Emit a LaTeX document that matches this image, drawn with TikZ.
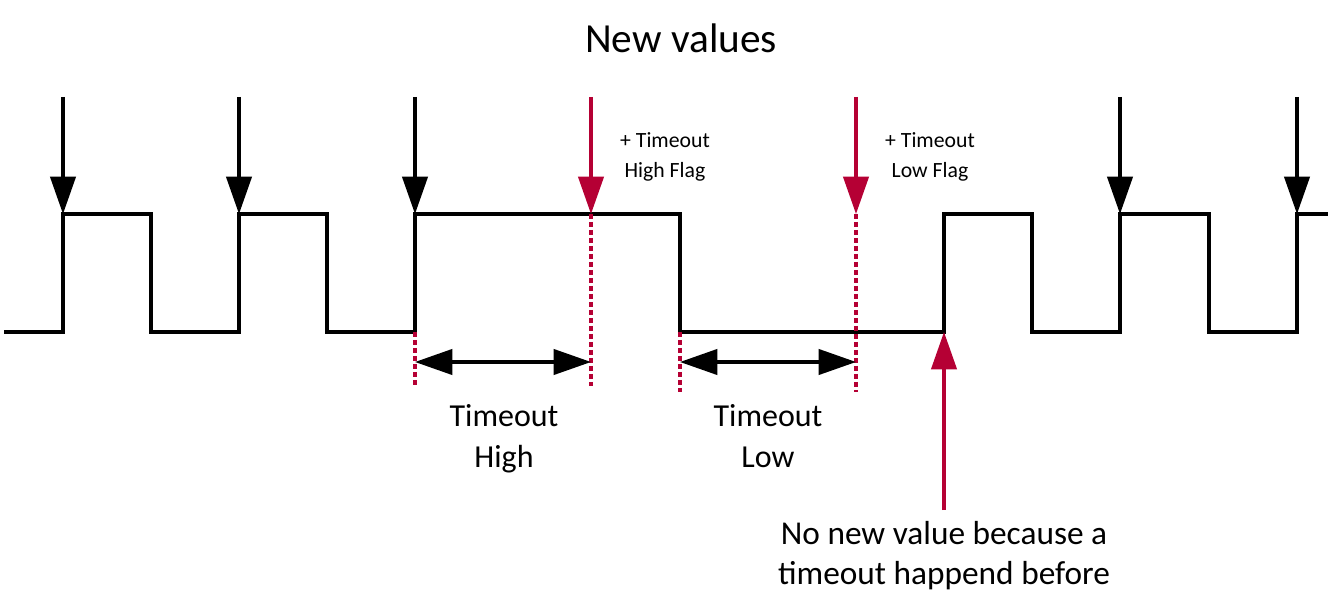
\documentclass[tikz,border=0pt]{standalone}
\usepackage{fontspec}
\setmainfont{Carlito}
\usepackage{xcolor}
\usetikzlibrary{arrows.meta}
\definecolor{flagred}{RGB}{181,0,52}
\tikzset{
	wave/.style={line width=2.4pt, line join=miter},
	tick/.style={line width=2.3pt, -{Triangle[length=28pt,width=19pt]}},
	span/.style={line width=2.3pt, {Triangle[length=28pt,width=19pt]}-{Triangle[length=28pt,width=19pt]}},
	guide/.style={flagred, line width=2.7pt, dash pattern=on 3.6pt off 2.4pt},
	lbl/.style={inner sep=0pt, align=center, font=\fontsize{24}{31}\selectfont}
}

\begin{document}
\begin{tikzpicture}[x=0.75pt,y=-0.75pt]
		\useasboundingbox (0,0) rectangle (1331,609);

		% signal edges
		\coordinate (e1) at (63,214);
		\coordinate (e2) at (239,214);
		\coordinate (e3) at (415,214);
		\coordinate (e4) at (1120,214);
		\coordinate (e5) at (1297,214);
		\coordinate (fh) at (591,214);
		\coordinate (fl) at (856,214);
		\coordinate (lo3) at (415,332);
		\coordinate (lo6) at (680,332);
		\coordinate (lo7) at (944,332);

		\draw[wave] (4,332) -- (63,332) -- (63,214) -- (151,214) -- (151,332)
			-- (239,332) -- (239,214) -- (327,214) -- (327,332)
			-- (415,332) -- (415,214) -- (680,214) -- (680,332)
			-- (944,332) -- (944,214) -- (1032,214) -- (1032,332)
			-- (1120,332) -- (1120,214) -- (1209,214) -- (1209,332)
			-- (1297,332) -- (1297,214) -- (1328,214);

		\node[inner sep=0pt, font=\fontsize{31}{37}\selectfont] at (681,38) (title)
			{New values};

		% new value arrows
		\foreach \e in {e1,e2,e3,e4,e5}
			\draw[tick] ([yshift=87.75pt]\e) -- (\e);

		% timeout flags
		\draw[tick, flagred] ([yshift=87.75pt]fh) -- (fh);
		\draw[tick, flagred] ([yshift=87.75pt]fl) -- (fl);
		\node[inner sep=0pt, align=center, font=\fontsize{16.3}{22.5}\selectfont] at (665,157) (flag-high)
			{+ Timeout \\ High Flag};
		\node[inner sep=0pt, align=center, font=\fontsize{16.3}{22.5}\selectfont] at (930,157) (flag-low)
			{+ Timeout \\ Low Flag};

		% guides
		\coordinate (gh1) at (415,386);
		\coordinate (gh2) at (591,386);
		\coordinate (gl1) at (680,392);
		\coordinate (gl2) at (856,392);
		\draw[guide] (lo3) -- (gh1);
		\draw[guide] (fh) -- (gh2);
		\draw[guide] (lo6) -- (gl1);
		\draw[guide] (fl) -- (gl2);

		% timeouts
		\draw[span] (415,362) -- (591,362);
		\draw[span] (680,362) -- (856,362);
		\node[lbl, anchor=north] at (504,404) (timeout-high) {Timeout \\ High};
		\node[lbl, anchor=north] at (768,404) (timeout-low) {Timeout \\ Low};

		% missing value
		\node[lbl, anchor=north, font=\fontsize{25}{30}\selectfont] at (944,521) (no-value)
			{No new value because a \\ timeout happend before};
		\draw[tick, flagred] (944,510) -- (lo7);
	\end{tikzpicture}
\end{document}
